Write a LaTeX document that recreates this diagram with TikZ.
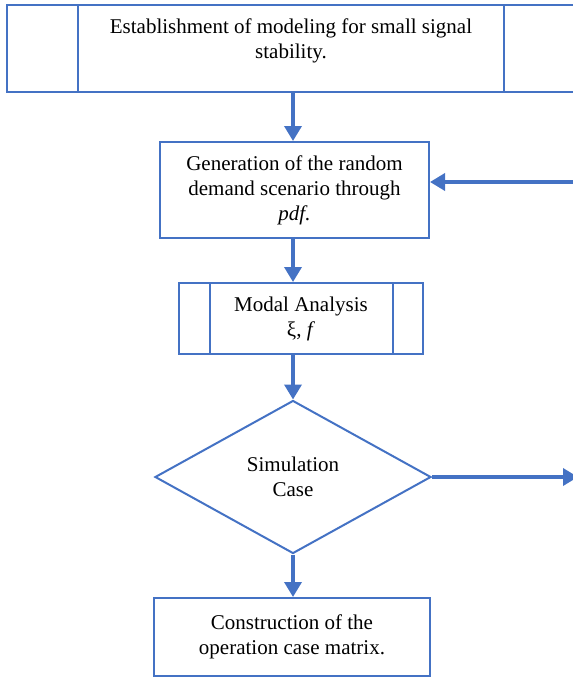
\documentclass[tikz,border=0pt]{standalone}
\usepackage{fontspec}
\setmainfont{Liberation Serif}
\usetikzlibrary{arrows.meta,shapes.geometric}
\definecolor{flowblue}{HTML}{4472C4}

\begin{document}
\begin{tikzpicture}[x=1pt, y=-1pt, line join=miter,
    boxline/.style={draw=flowblue, line width=2pt},
    procbox/.style={boxline, rectangle, inner sep=0pt, align=center,
        font=\fontsize{21}{25}\selectfont},
    flow/.style={draw=flowblue, line width=3.5pt,
        -{Triangle[length=15pt, width=17pt]}}]

    % ------------------------------------------------------------------
    % 0. Page frame (the picture runs off its right side)
    % ------------------------------------------------------------------
    \useasboundingbox (0,0) rectangle (573,678);
    \clip (0,0) rectangle (573,678);

    % ------------------------------------------------------------------
    % 1. Modeling box (wide, with side bars)
    % ------------------------------------------------------------------
    \node[procbox, minimum width=568, minimum height=87] (estab) at (291,48.5) {};
    \draw[boxline] ([xshift=72pt]estab.north west) -- ([xshift=72pt]estab.south west);
    \draw[boxline] ([xshift=-72pt]estab.north east) -- ([xshift=-72pt]estab.south east);
    \node[align=center, font=\fontsize{21}{25}\selectfont] (estabtext) at (291,40.5)
        {Establishment of modeling for small signal\\stability.};

    % ------------------------------------------------------------------
    % 2. Scenario generation
    % ------------------------------------------------------------------
    \node[procbox, minimum width=269, minimum height=96] (gen) at (294.5,190)
        {Generation of the random\\demand scenario through\\\textit{pdf.}};

    % ------------------------------------------------------------------
    % 3. Modal analysis (predefined process)
    % ------------------------------------------------------------------
    \node[procbox, minimum width=244, minimum height=71] (modal) at (301,318.5)
        {Modal Analysis\\ξ, \textit{f}};
    \draw[boxline] ([xshift=32pt]modal.north west) -- ([xshift=32pt]modal.south west);
    \draw[boxline] ([xshift=-31pt]modal.north east) -- ([xshift=-31pt]modal.south east);

    % ------------------------------------------------------------------
    % 4. Decision and final box
    % ------------------------------------------------------------------
    \node[procbox, diamond, aspect=1.8, minimum width=276, minimum height=153] (simcase)
        at (293,477) {Simulation\\Case};
    \node[procbox, minimum width=276, minimum height=78] (opmatrix) at (292,637)
        {Construction of the\\operation case matrix.};

    % ------------------------------------------------------------------
    % 5. Connectors
    % ------------------------------------------------------------------
    \coordinate (loopin) at (576,182);
    \coordinate (caseout) at (578,477);

    \draw[flow] (estab.south -| simcase) -- (gen.north -| simcase);
    \draw[flow] (loopin) -- (gen.east |- loopin);
    \draw[flow] (gen.south -| simcase) -- (modal.north -| simcase);
    \draw[flow] (modal.south -| simcase) -- (simcase.north);
    \draw[flow] (simcase.east) -- (caseout);
    \draw[flow] (simcase.south) -- (opmatrix.north -| simcase);

\end{tikzpicture}
\end{document}
